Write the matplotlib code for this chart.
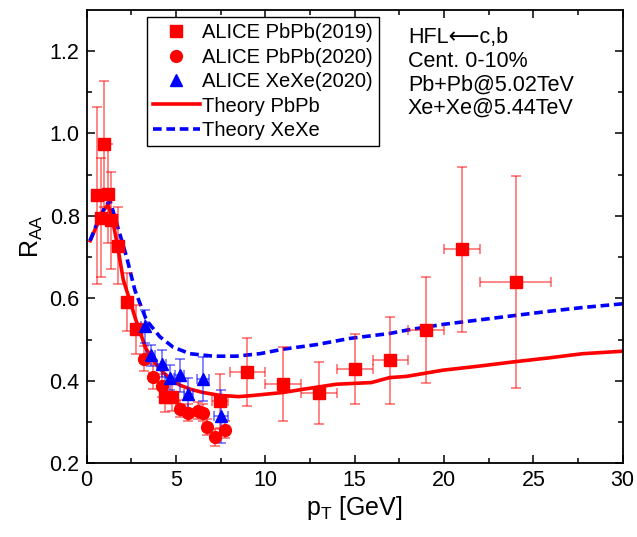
import matplotlib
matplotlib.use("Agg")
import matplotlib.pyplot as plt

plt.rcParams['font.family'] = ['Liberation Sans', 'DejaVu Sans']

# ALICE PbPb (2019) - squares
pb19_x = [0.56, 0.78, 0.98, 1.21, 1.36, 1.73, 2.24, 2.74, 4.4, 4.8, 7.45, 9.0, 11.0, 13.0, 15.0, 17.0, 19.0, 21.0, 24.0]
pb19_y = [0.85, 0.796, 0.975, 0.854, 0.789, 0.728, 0.591, 0.525, 0.36, 0.362, 0.352, 0.422, 0.392, 0.371, 0.428, 0.45, 0.523, 0.719, 0.64]
pb19_yerr = [0.215, 0.145, 0.153, 0.12, 0.118, 0.094, 0.07, 0.06, 0.035, 0.035, 0.065, 0.082, 0.09, 0.076, 0.085, 0.105, 0.128, 0.2, 0.257]
pb19_xerr = [0, 0, 0, 0, 0, 0, 0, 0, 0.2, 0.2, 0.45, 1, 1, 1, 1, 1, 1, 1, 2]

# ALICE PbPb (2020) - circles
pb20_x = [3.2, 3.7, 4.23, 5.22, 5.68, 6.24, 6.52, 6.72, 7.21, 7.75]
pb20_y = [0.454, 0.41, 0.388, 0.333, 0.323, 0.328, 0.323, 0.288, 0.263, 0.282]
pb20_yerr = [0.03, 0.03, 0.028, 0.02, 0.02, 0.02, 0.02, 0.02, 0.02, 0.02]
pb20_xerr = [0.2, 0.2, 0.2, 0.2, 0.2, 0.2, 0.2, 0.2, 0.2, 0.2]

# ALICE XeXe (2020) - triangles
xe_x = [3.24, 3.58, 4.19, 4.66, 5.22, 5.7, 6.5, 7.5]
xe_y = [0.533, 0.462, 0.442, 0.408, 0.414, 0.368, 0.405, 0.314]
xe_yerr = [0.04, 0.025, 0.033, 0.03, 0.04, 0.04, 0.054, 0.065]
xe_xerr = [0.2, 0.25, 0.25, 0.25, 0.25, 0.25, 0.35, 0.4]

# theory curves
th_pb_x = [0.2, 0.6, 0.9, 1.2, 1.45, 1.73, 2.05, 2.42, 2.7, 3.3, 3.8, 4.3, 4.7, 5.2, 5.8, 6.5, 7.45, 8.5, 9.13,
           11.0, 12.0, 13.97, 15.93, 16.95, 17.9, 19.93, 21.98, 23.85, 25.9, 27.76, 30]
th_pb_y = [0.74, 0.78, 0.81, 0.828, 0.79, 0.728, 0.645, 0.595, 0.555, 0.48, 0.445, 0.42, 0.405, 0.39, 0.38, 0.372, 0.365, 0.362, 0.364,
           0.372, 0.379, 0.392, 0.396, 0.408, 0.411, 0.426, 0.436, 0.446, 0.456, 0.466, 0.472]
th_xe_x = [0.19, 0.65, 1.0, 1.3, 1.77, 2.24, 2.7, 3.35, 4.1, 4.84, 5.78, 7.08, 8.38, 9.69, 11.0, 12.86, 14.72,
           16.95, 17.9, 19.93, 22.17, 24.03, 25.9, 27.76, 30]
th_xe_y = [0.74, 0.789, 0.82, 0.838, 0.769, 0.70, 0.62, 0.547, 0.507, 0.482, 0.466, 0.46, 0.46, 0.466, 0.477, 0.488, 0.503,
           0.515, 0.523, 0.537, 0.549, 0.559, 0.569, 0.578, 0.587]

fig = plt.figure(figsize=(6.37, 5.37), dpi=100)
ax = fig.add_axes([0.136, 0.137, 0.8416, 0.845])

red = '#ff0000'
blue = '#0000ff'

ax.plot(th_pb_x, th_pb_y, color=red, lw=2.6, zorder=2, label='Theory PbPb')
ax.plot(th_xe_x, th_xe_y, color=blue, lw=2.6, ls=(0, (2.4, 1.3)), zorder=2, label='Theory XeXe')

eb = dict(elinewidth=1.1, capsize=3.5, capthick=1.1, zorder=3, linestyle='none')
ax.errorbar(pb19_x, pb19_y, yerr=pb19_yerr, xerr=pb19_xerr, fmt='s', ms=8, color=red,
            ecolor=(1, 0, 0, 0.6), label='ALICE PbPb(2019)', **eb)
ax.errorbar(pb20_x, pb20_y, yerr=pb20_yerr, xerr=pb20_xerr, fmt='o', ms=8.5, color=red,
            ecolor=(1, 0, 0, 0.6), label='ALICE PbPb(2020)', **eb)
ax.errorbar(xe_x, xe_y, yerr=xe_yerr, xerr=xe_xerr, fmt='^', ms=8.5, color=blue,
            ecolor=(0, 0, 1, 0.6), label='ALICE XeXe(2020)', **eb)

ax.set_xlim(0, 30)
ax.set_ylim(0.2, 1.3)
ax.set_xticks([0, 5, 10, 15, 20, 25, 30])
ax.set_xticks([2.5, 7.5, 12.5, 17.5, 22.5, 27.5], minor=True)
ax.set_yticks([0.2, 0.4, 0.6, 0.8, 1.0, 1.2])
ax.set_yticks([0.3, 0.5, 0.7, 0.9, 1.1], minor=True)
ax.tick_params(which='both', direction='in', top=True, right=True, labelsize=15.5, width=1.1)
ax.tick_params(which='major', length=6, pad=5)
ax.tick_params(which='minor', length=3.5)
for s in ax.spines.values():
    s.set_linewidth(1.3)

ax.set_xlabel(r'p$_\mathregular{T}$ [GeV]', fontsize=18, labelpad=2)
ax.set_ylabel(r'R$_\mathregular{AA}$', fontsize=18, labelpad=3)

handles, labels = ax.get_legend_handles_labels()
order = [labels.index(l) for l in ['ALICE PbPb(2019)', 'ALICE PbPb(2020)', 'ALICE XeXe(2020)', 'Theory PbPb', 'Theory XeXe']]
leg_handles = []
for i in order:
    h = handles[i]
    if hasattr(h, 'lines'):
        h = h[0]
    leg_handles.append(h)
leg = ax.legend(leg_handles, [labels[i] for i in order], loc='upper left', bbox_to_anchor=(0.113, 0.9835),
                borderaxespad=0, fontsize=14.5, handlelength=2.3, handletextpad=0.12, labelspacing=0.27,
                borderpad=0.3, fancybox=False, framealpha=1, edgecolor='black')
leg.get_frame().set_linewidth(1.0)

info = ['HFL\u27f5c,b', 'Cent. 0-10%', 'Pb+Pb@5.02TeV', 'Xe+Xe@5.44TeV']
ys = [0.927, 0.874, 0.822, 0.771]
for t, yy in zip(info, ys):
    ax.text(0.599, yy, t, transform=ax.transAxes, fontsize=15.5, va='baseline', ha='left')

fig.savefig('out.png', dpi=100)
